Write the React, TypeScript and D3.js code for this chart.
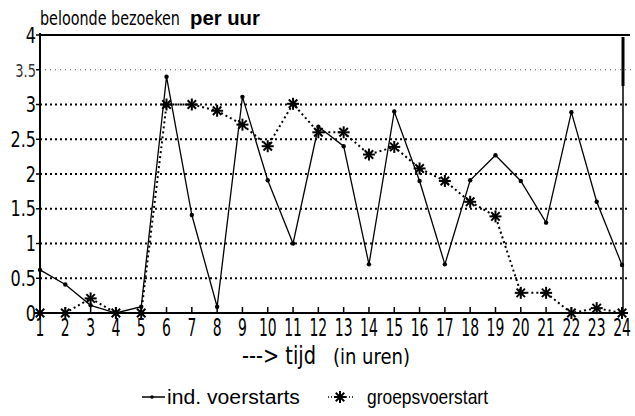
import React from 'react'
import * as d3 from 'd3'

const hours = d3.range(1, 25)
const indVoerstarts = [0.62, 0.41, 0.11, 0, 0.09, 3.4, 1.41, 0.09, 3.11, 1.91, 1.0, 2.68, 2.4, 0.7, 2.9, 1.9, 0.7, 1.91, 2.27, 1.9, 1.3, 2.89, 1.6, 0.69]
const groepsVoerstart = [0, 0, 0.21, 0, 0, 3.0, 3.0, 2.91, 2.71, 2.4, 3.01, 2.6, 2.6, 2.28, 2.39, 2.08, 1.9, 1.6, 1.39, 0.29, 0.29, 0, 0.07, 0]
const yTicks = [0, 0.5, 1, 1.5, 2, 2.5, 3, 3.5, 4]
const gridTicks = [0.5, 1, 1.5, 2, 2.5, 3]

const W = 635
const H = 416
const numFont = '"DejaVu Sans Condensed", "DejaVu Sans", sans-serif'
const sansFont = '"Liberation Sans", Arial, sans-serif'

const Star = ({ x, y }: { x: number; y: number }) => {
  const r = 6
  const a = r * Math.SQRT1_2
  return (
    <g stroke="#000" strokeWidth={2}>
      <line x1={x - r} y1={y} x2={x + r} y2={y} />
      <line x1={x} y1={y - r} x2={x} y2={y + r} />
      <line x1={x - a} y1={y - a} x2={x + a} y2={y + a} />
      <line x1={x - a} y1={y + a} x2={x + a} y2={y - a} />
    </g>
  )
}

export default function App() {
  const svgRef = React.useRef<SVGSVGElement>(null)
  const x = d3.scaleLinear().domain([1, 24]).range([40, 622])
  const y = d3.scaleLinear().domain([0, 4]).range([313, 35])

  const line = d3.line<number>()
    .x((_, i) => x(hours[i]))
    .y((d) => y(d))

  // squeeze the texts that have a target width, so they look condensed like the scan
  React.useLayoutEffect(() => {
    d3.select(svgRef.current).selectAll<SVGTextElement, unknown>('text[data-fit]').each(function () {
      const el = this
      const target = +(el.getAttribute('data-fit') ?? 0)
      const w = el.getComputedTextLength()
      const x0 = +(el.getAttribute('x') ?? 0)
      const y0 = +(el.getAttribute('y') ?? 0)
      if (w > 0) el.setAttribute('transform', `translate(${x0},${y0}) scale(${target / w},1) translate(${-x0},${-y0})`)
    })
  }, [])

  return (
    <svg ref={svgRef} width={W} height={H} style={{ position: 'absolute', left: 0, top: 0, background: '#fff' }}>
      {/* grid */}
      {gridTicks.map((t) => (
        <line key={t} x1={x(1)} x2={630} y1={y(t)} y2={y(t)}
          stroke="#000" strokeWidth={2} strokeDasharray="2,3" />
      ))}
      <line x1={x(1)} x2={635} y1={y(3.5)} y2={y(3.5)}
        stroke="#555" strokeWidth={1} strokeDasharray="1,4" />

      {/* frame */}
      <line x1={x(1)} x2={630} y1={y(4)} y2={y(4)} stroke="#000" strokeWidth={2} />
      <line x1={x(1)} x2={x(1)} y1={y(4) - 2} y2={y(0)} stroke="#000" strokeWidth={2} />
      <line x1={x(1)} x2={x(24)} y1={y(0)} y2={y(0)} stroke="#000" strokeWidth={2} />
      <line x1={x(24) + 1} x2={x(24) + 1} y1={37} y2={86} stroke="#000" strokeWidth={3} />
      <line x1={x(24) + 1} x2={x(24) + 1} y1={86} y2={y(0)} stroke="#000" strokeWidth={1.5} />

      {/* x ticks */}
      {hours.map((h) => (
        <g key={h}>
          <line x1={x(h)} x2={x(h)} y1={y(0)} y2={y(0) - 6} stroke="#000" strokeWidth={1.5} />
          <text x={0} y={0} textAnchor="middle" fontFamily={numFont} fontSize={25}
            transform={`translate(${x(h)},336) scale(0.62,1)`}>
            {h}
          </text>
        </g>
      ))}

      {/* y ticks */}
      {yTicks.map((t) => (
        <g key={t}>
          <line x1={x(1) - 4} x2={x(1)} y1={y(t)} y2={y(t)} stroke="#000" strokeWidth={1.5} />
          <text x={0} y={0} textAnchor="end" fontFamily={numFont}
            fontSize={t === 3.5 ? 17 : 21} fill={t === 3.5 ? '#333' : '#000'}
            transform={`translate(36,${y(t) + 7.5}) scale(0.85,1)`}>
            {t}
          </text>
        </g>
      ))}

      {/* series */}
      <path d={line(groepsVoerstart) ?? ''} fill="none" stroke="#000" strokeWidth={2} strokeDasharray="2,3" />
      {groepsVoerstart.map((v, i) => <Star key={i} x={x(hours[i])} y={y(v)} />)}
      <path d={line(indVoerstarts) ?? ''} fill="none" stroke="#000" strokeWidth={1.3} />
      {indVoerstarts.map((v, i) => <circle key={i} cx={x(hours[i])} cy={y(v)} r={2.2} fill="#000" />)}

      {/* titles */}
      <text x={40} y={25} fontFamily={numFont} fontSize={19} data-fit={140}>
        beloonde bezoeken
      </text>
      <text x={190} y={25} fontFamily={sansFont} fontSize={20} fontWeight="bold" data-fit={70}>
        per uur
      </text>
      <text x={242} y={364} fontFamily={numFont} fontSize={24} data-fit={74}>
        ---{'>'} tijd
      </text>
      <text x={333} y={364} fontFamily={numFont} fontSize={22} data-fit={77}>
        (in uren)
      </text>

      {/* legend */}
      <line x1={142} x2={165} y1={397} y2={397} stroke="#000" strokeWidth={1.5} />
      <circle cx={152} cy={397} r={1.8} fill="#000" />
      <text x={167} y={404} fontFamily={sansFont} fontSize={21} data-fit={133}>ind. voerstarts</text>
      <line x1={328} x2={353} y1={397} y2={397} stroke="#000" strokeWidth={1.5} strokeDasharray="1,2" />
      <Star x={340} y={397} />
      <text x={367} y={404} fontFamily={sansFont} fontSize={20} data-fit={121}>groepsvoerstart</text>
    </svg>
  )
}
